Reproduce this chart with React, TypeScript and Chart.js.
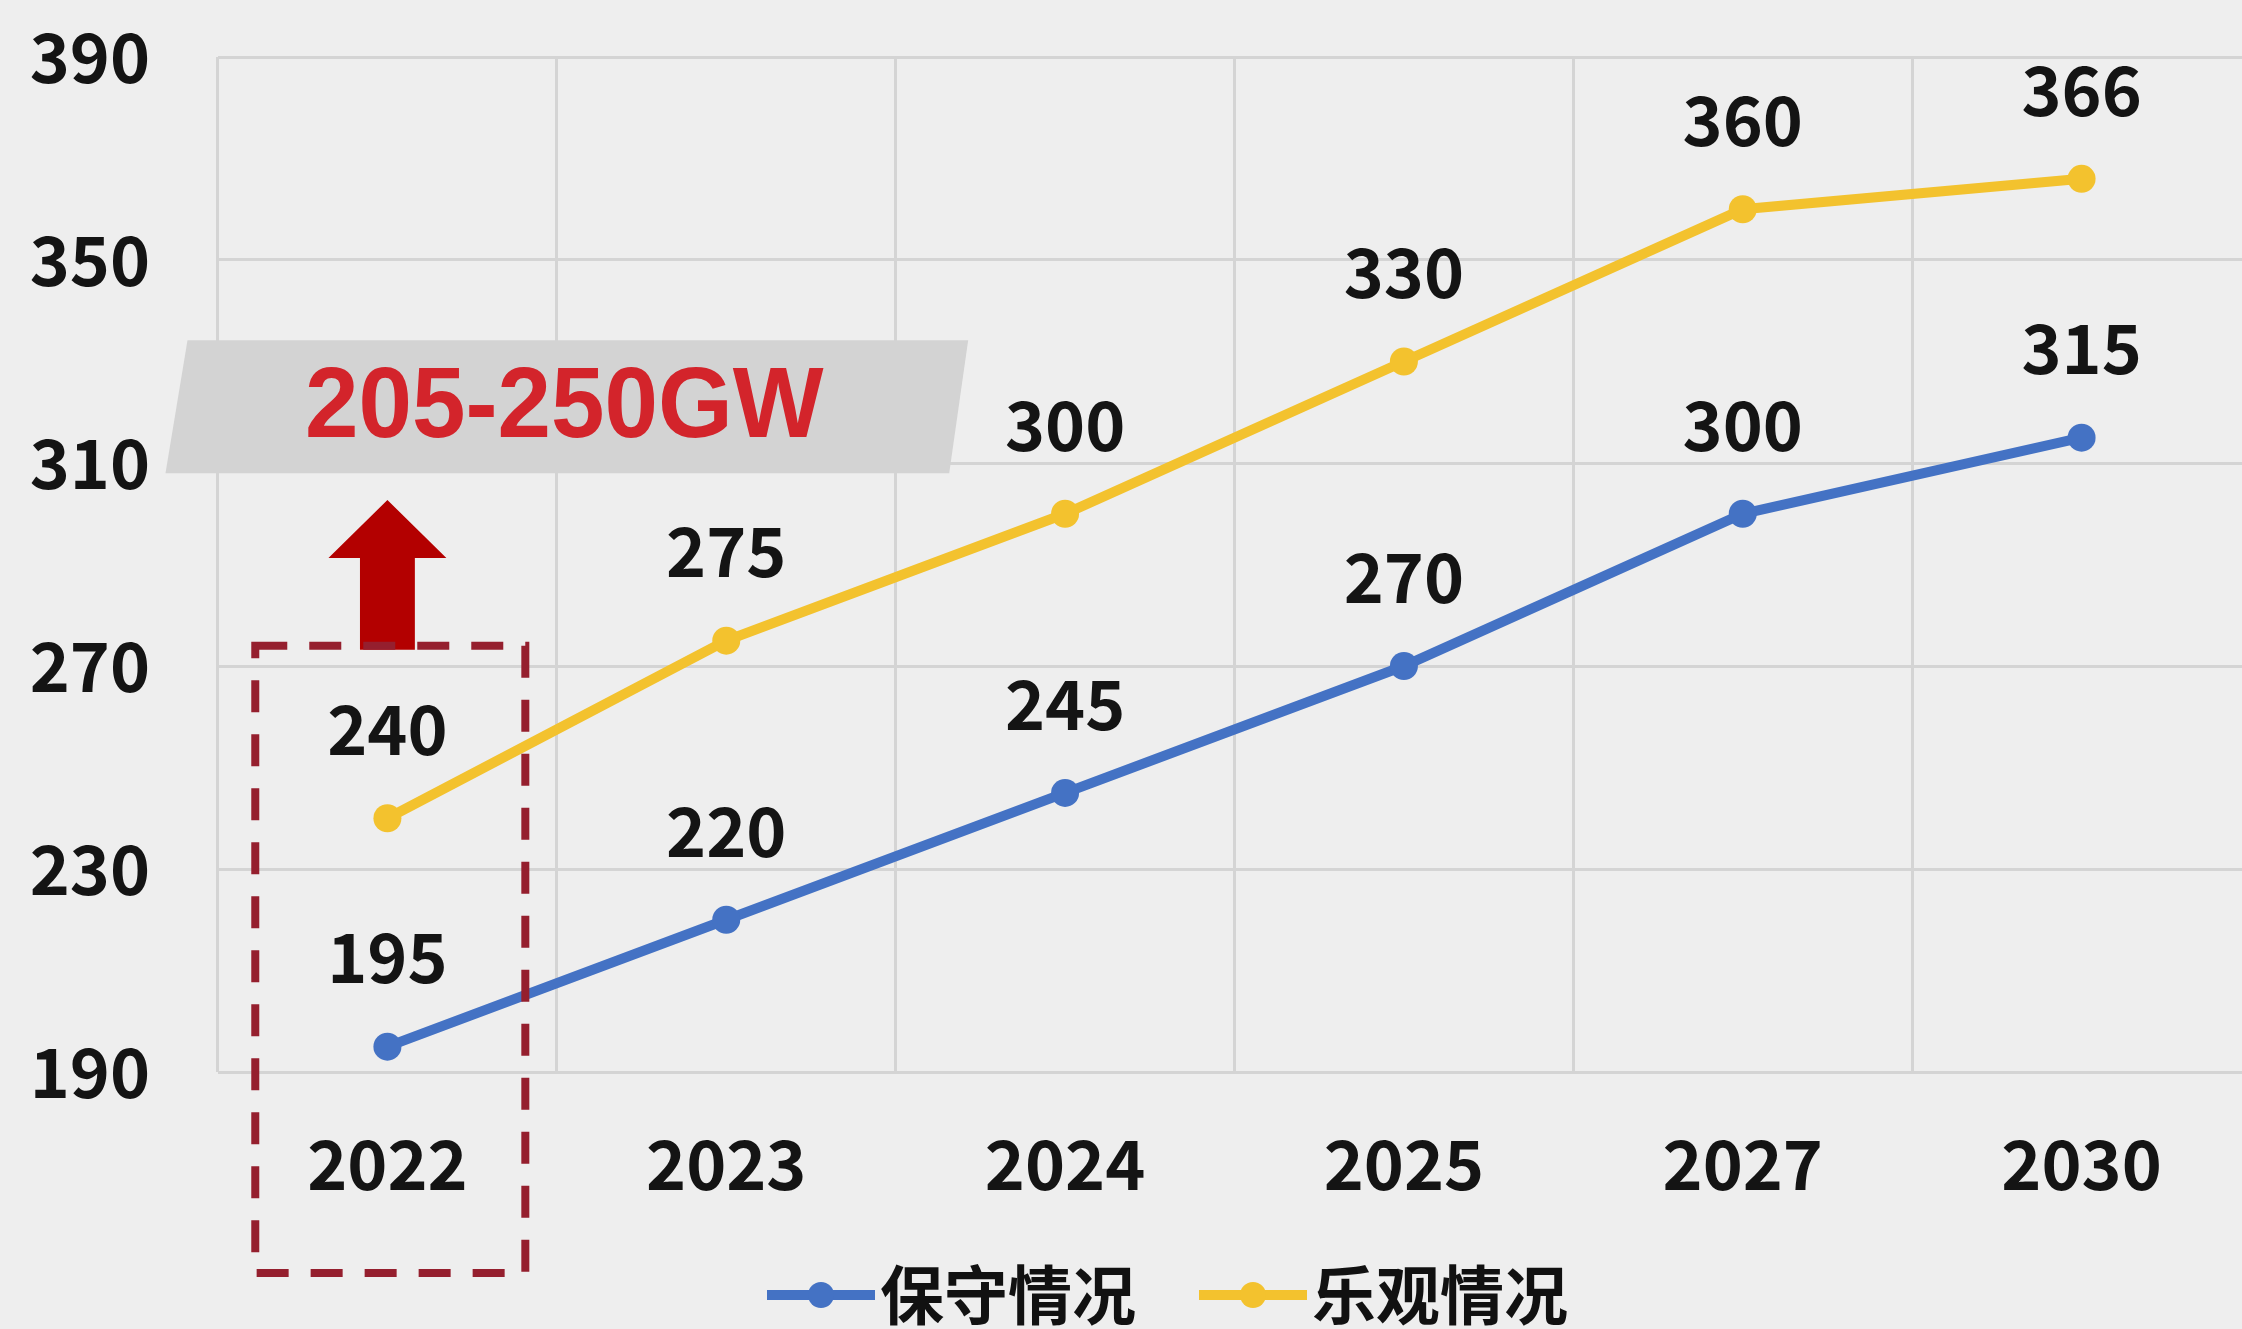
import React, { useEffect, useRef } from "react";
import { Chart, registerables } from "chart.js";

Chart.register(...registerables);

// ---------- data ----------
const categories = ["2022", "2023", "2024", "2025", "2027", "2030"];
const conservative = [195, 220, 245, 270, 300, 315];
const optimistic = [240, 275, 300, 330, 360, 366];
const seriesNames = ["保守情况", "乐观情况"];
const yTicks = [190, 230, 270, 310, 350, 390];
const highlightLabel = "205-250GW";

// ---------- styles ----------
const W = 2330;
const H = 1337;
const BLUE = "#4472c4";
const YELLOW = "#f3c22e";
const GRID = "#d4d4d4";
const BG = "#eeeeee";
const NUM_FONT = '"Noto Sans CJK SC", "Noto Sans", sans-serif';

function makeMarker(color: string) {
  const c = document.createElement("canvas");
  c.width = 188;
  c.height = 34;
  const ctx = c.getContext("2d")!;
  ctx.strokeStyle = color;
  ctx.lineWidth = 10;
  ctx.beginPath();
  ctx.moveTo(80, 17);
  ctx.lineTo(188, 17);
  ctx.stroke();
  ctx.fillStyle = color;
  ctx.beginPath();
  ctx.arc(134, 17, 13, 0, Math.PI * 2);
  ctx.fill();
  return c;
}

const bgPlugin = {
  id: "bg",
  beforeDraw(chart: any) {
    const { ctx, width, height } = chart;
    ctx.save();
    ctx.fillStyle = BG;
    ctx.fillRect(0, 0, width, height);
    ctx.restore();
  },
};

const annotationPlugin = {
  id: "annotations",
  beforeDatasetsDraw(chart: any) {
    const { ctx } = chart;
    const x = chart.scales.x;
    const y = chart.scales.y;
    const x0 = x.getPixelForValue(0);
    const cw = x.getPixelForValue(1) - x0;
    // grey banner (parallelogram)
    ctx.save();
    ctx.fillStyle = "#d3d3d3";
    ctx.beginPath();
    ctx.moveTo(x0 - 0.59 * cw, y.getPixelForValue(334.2));
    ctx.lineTo(x0 + 1.714 * cw, y.getPixelForValue(334.2));
    ctx.lineTo(x0 + 1.658 * cw, y.getPixelForValue(308));
    ctx.lineTo(x0 - 0.655 * cw, y.getPixelForValue(308));
    ctx.closePath();
    ctx.fill();
    // red text
    ctx.font = 'bold 100px "Liberation Sans", Arial, sans-serif';
    ctx.fillStyle = "#d3242b";
    ctx.textAlign = "center";
    ctx.textBaseline = "middle";
    const tw = ctx.measureText(highlightLabel).width;
    const target = 1.53 * cw;
    const sx = target / tw;
    ctx.translate(x0 + 0.522 * cw, y.getPixelForValue(320.5));
    ctx.scale(sx, 1);
    ctx.fillText(highlightLabel, 0, 0);
    ctx.restore();
    // arrow
    ctx.save();
    ctx.fillStyle = "#b30000";
    const yTip = y.getPixelForValue(302.7);
    const yHead = y.getPixelForValue(291.3);
    const yBot = y.getPixelForValue(273.2);
    ctx.beginPath();
    ctx.moveTo(x0, yTip);
    ctx.lineTo(x0 + 0.174 * cw, yHead);
    ctx.lineTo(x0 + 0.081 * cw, yHead);
    ctx.lineTo(x0 + 0.081 * cw, yBot);
    ctx.lineTo(x0 - 0.081 * cw, yBot);
    ctx.lineTo(x0 - 0.081 * cw, yHead);
    ctx.lineTo(x0 - 0.174 * cw, yHead);
    ctx.closePath();
    ctx.fill();
    ctx.restore();
  },
  afterDatasetsDraw(chart: any) {
    const { ctx } = chart;
    const x = chart.scales.x;
    const y = chart.scales.y;
    const x0 = x.getPixelForValue(0);
    const cw = x.getPixelForValue(1) - x0;
    // data labels
    ctx.save();
    ctx.font = `bold 68px ${NUM_FONT}`;
    ctx.fillStyle = "#141414";
    ctx.textAlign = "center";
    ctx.textBaseline = "middle";
    chart.data.datasets.forEach((ds: any, i: number) => {
      const meta = chart.getDatasetMeta(i);
      meta.data.forEach((pt: any, j: number) => {
        ctx.fillText(String(ds.data[j]), pt.x, pt.y - 89);
      });
    });
    ctx.restore();
    // dashed box
    ctx.save();
    ctx.strokeStyle = "#951f2e";
    ctx.lineWidth = 8;
    ctx.setLineDash([32, 22]);
    const left = x0 - 0.39 * cw;
    const right = x0 + 0.407 * cw;
    const top = y.getPixelForValue(274);
    const bottom = y.getPixelForValue(150.4);
    ctx.strokeRect(left, top, right - left, bottom - top);
    ctx.restore();
  },
};

export default function App() {
  const ref = useRef<HTMLCanvasElement>(null);
  useEffect(() => {
    const canvas = ref.current!;
    const markers = [makeMarker(BLUE), makeMarker(YELLOW)];
    const chart = new Chart(canvas, {
      type: "line",
      data: {
        labels: categories,
        datasets: [
          {
            label: seriesNames[0],
            data: conservative,
            borderColor: BLUE,
            backgroundColor: BLUE,
            borderWidth: 10,
            pointRadius: 14,
            pointBorderWidth: 0,
            pointBackgroundColor: BLUE,
            tension: 0,
          },
          {
            label: seriesNames[1],
            data: optimistic,
            borderColor: YELLOW,
            backgroundColor: YELLOW,
            borderWidth: 10,
            pointRadius: 14,
            pointBorderWidth: 0,
            pointBackgroundColor: YELLOW,
            tension: 0,
          },
        ],
      },
      options: {
        responsive: false,
        animation: false,
        devicePixelRatio: 1,
        layout: { padding: { left: 31, right: 79, top: 57, bottom: 0 } },
        plugins: {
          legend: {
            position: "bottom",
            labels: {
              usePointStyle: true,
              pointStyleWidth: 134,
              padding: 10,
              color: "#111111",
              font: { family: NUM_FONT, size: 64, weight: "bold" },
              generateLabels: (c: any) => {
                const base = (Chart.defaults.plugins.legend.labels as any).generateLabels(c);
                return base.map((l: any, i: number) => ({ ...l, pointStyle: markers[i] }));
              },
            },
          },
          tooltip: { enabled: false },
        },
        scales: {
          x: {
            offset: true,
            grid: { offset: true, color: GRID, lineWidth: 3, drawTicks: false },
            border: { display: false },
            ticks: {
              padding: 51,
              color: "#141414",
              font: { family: NUM_FONT, size: 68, weight: "bold" },
            },
            afterFit: (s: any) => {
              s.height = 181;
              s.paddingLeft = 0;
              s.paddingRight = 0;
            },
          },
          y: {
            min: yTicks[0],
            max: yTicks[yTicks.length - 1],
            afterBuildTicks: (s: any) => {
              s.ticks = yTicks.map((v) => ({ value: v }));
            },
            grid: { color: GRID, lineWidth: 3, drawTicks: false },
            border: { display: false },
            ticks: {
              padding: 68,
              color: "#141414",
              font: { family: NUM_FONT, size: 68, weight: "bold" },
            },
            afterFit: (s: any) => {
              s.width = 187;
              s.paddingTop = 0;
              s.paddingBottom = 0;
            },
          },
        },
      } as any,
      plugins: [bgPlugin, annotationPlugin],
    });
    return () => chart.destroy();
  }, []);
  return (
    <div
      style={{
        position: "fixed",
        left: 0,
        top: 0,
        width: 2242,
        height: 1329,
        overflow: "hidden",
        background: BG,
      }}
    >
      <canvas ref={ref} width={W} height={H} style={{ width: W, height: H, display: "block" }} />
    </div>
  );
}
